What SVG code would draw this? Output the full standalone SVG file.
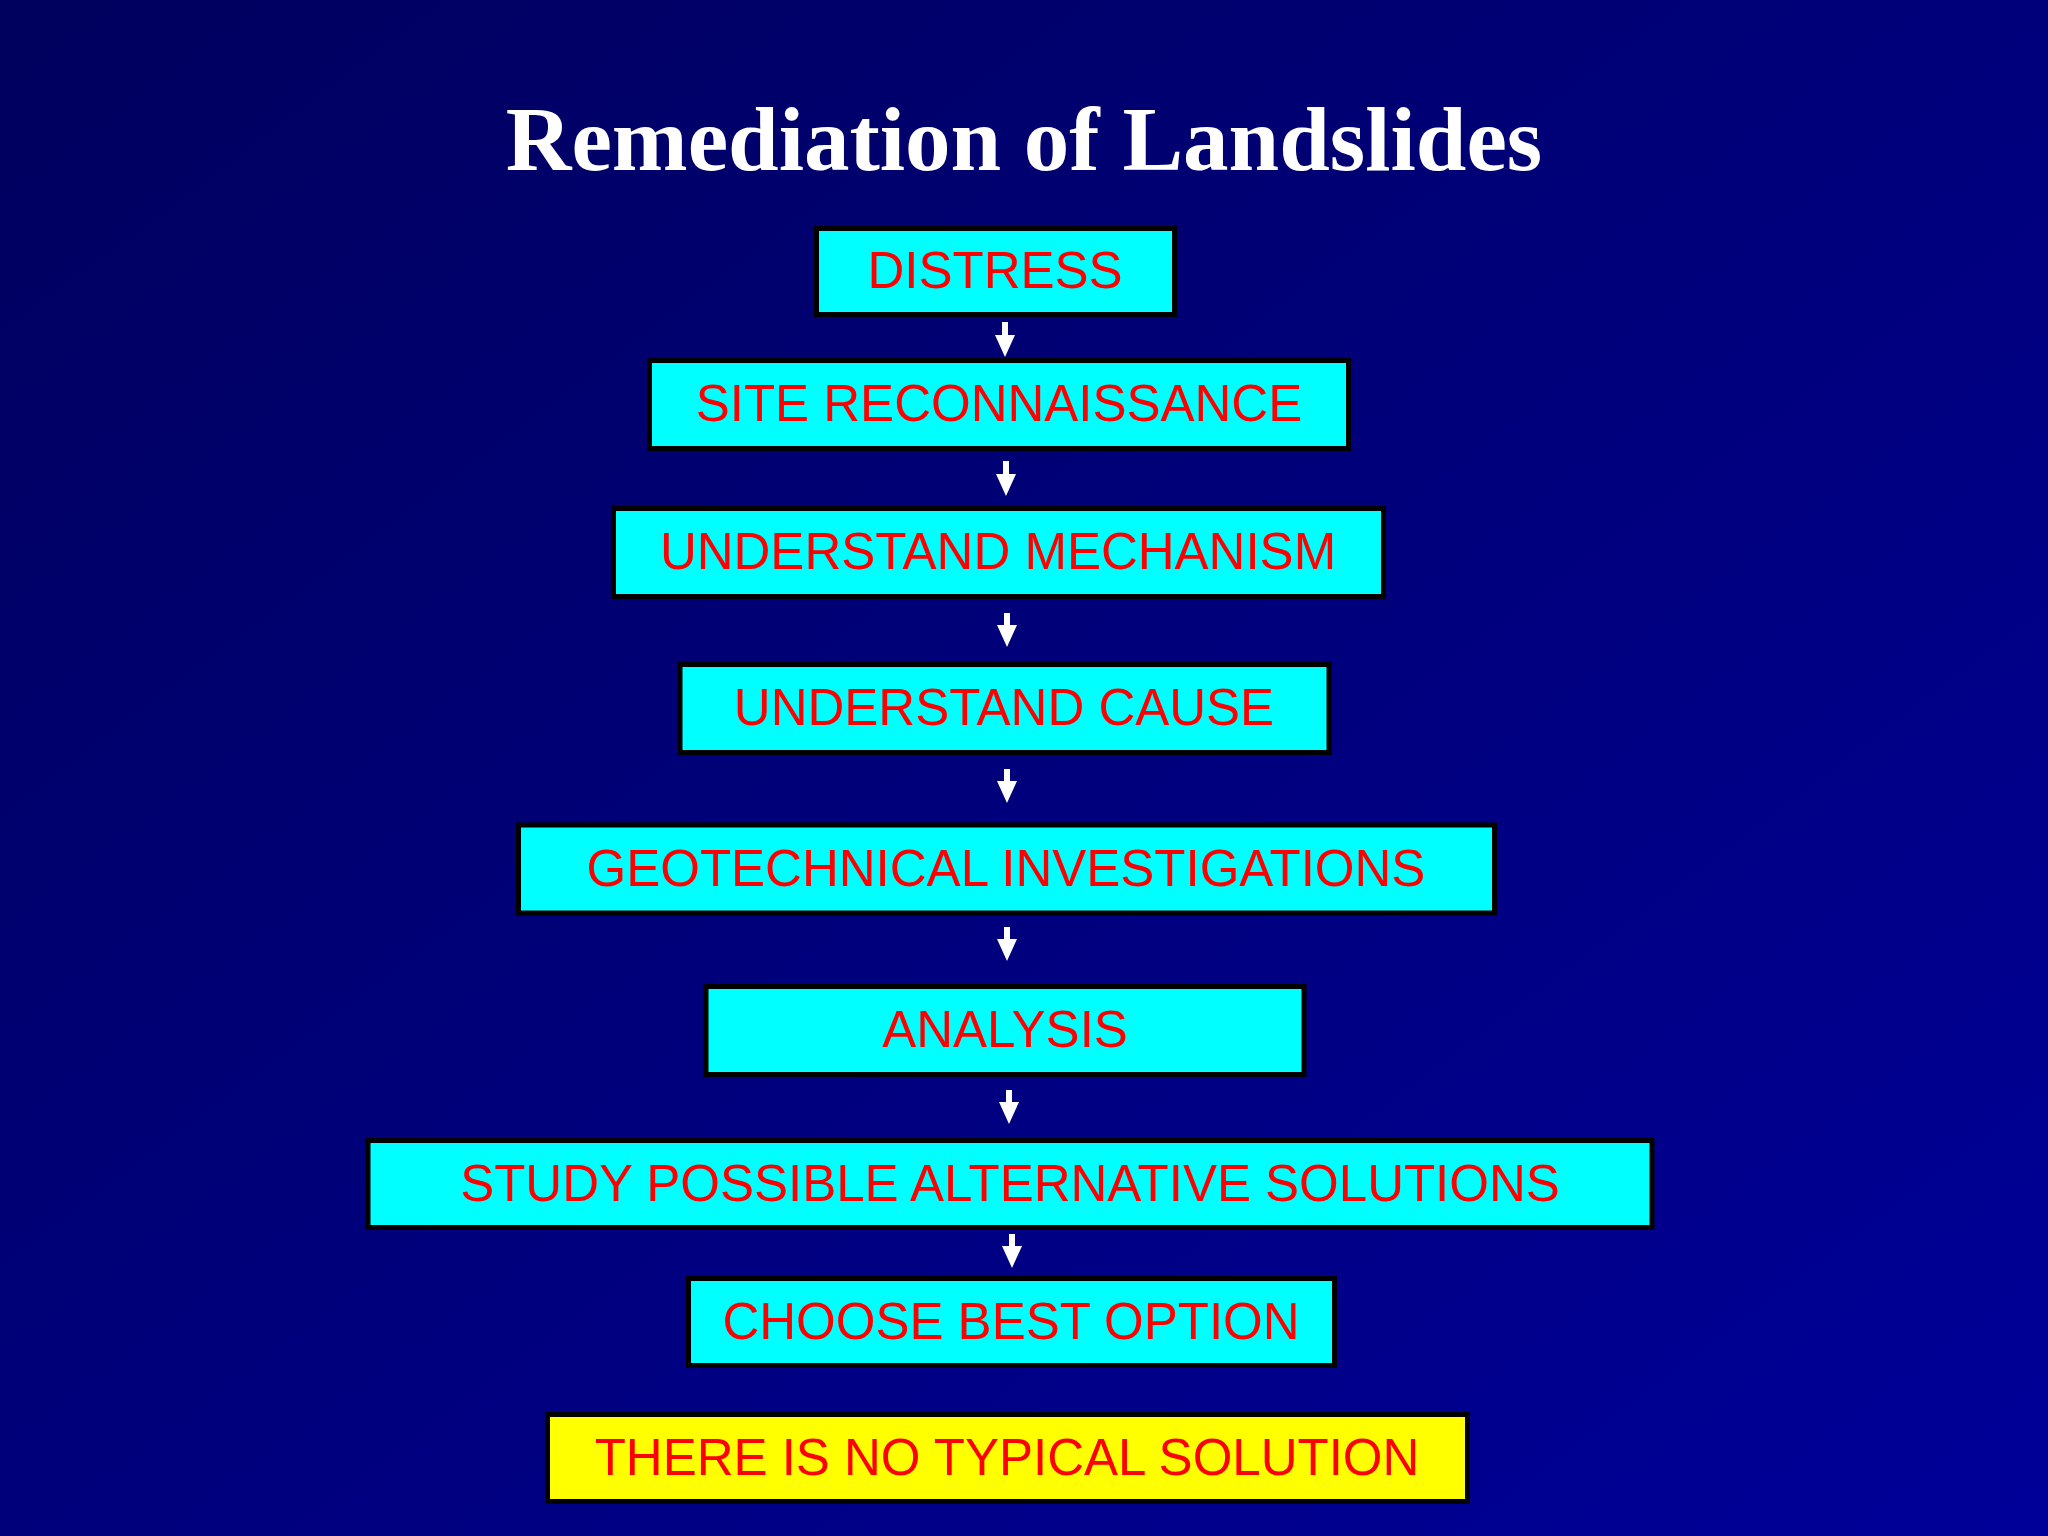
<svg xmlns="http://www.w3.org/2000/svg" width="2048" height="1536" viewBox="0 0 2048 1536">
<defs>
<linearGradient id="bg" x1="0" y1="0" x2="1" y2="1">
<stop offset="0" stop-color="#00005e"/>
<stop offset="1" stop-color="#000099"/>
</linearGradient>
<marker id="ah" markerUnits="userSpaceOnUse" markerWidth="22" markerHeight="20" refX="0" refY="10" orient="auto" viewBox="0 0 22 20">
<path d="M0,0 L22,10 L0,20 Z" fill="#ffffff"/>
</marker>
<style>
.box{stroke:#000000;stroke-width:5}
.cy{fill:#00ffff}
.ye{fill:#ffff00}
.lbl{font-family:"Liberation Sans",Arial,sans-serif;font-size:51px;fill:#ff0000;text-anchor:middle}
.title{font-family:"Liberation Serif","Times New Roman",serif;font-size:91px;font-weight:bold;fill:#ffffff;text-anchor:middle}
.arr{stroke:#ffffff;stroke-width:6;fill:none}
</style>
</defs>
<rect x="0" y="0" width="2048" height="1536" fill="url(#bg)"/>
<text class="title" x="1024" y="170">Remediation of Landslides</text>
<g id="connectors">
<line class="arr" x1="1005" y1="322" x2="1005" y2="335" marker-end="url(#ah)"/>
<line class="arr" x1="1006" y1="461" x2="1006" y2="474" marker-end="url(#ah)"/>
<line class="arr" x1="1007" y1="613" x2="1007" y2="625" marker-end="url(#ah)"/>
<line class="arr" x1="1007" y1="769" x2="1007" y2="781" marker-end="url(#ah)"/>
<line class="arr" x1="1007" y1="927" x2="1007" y2="939" marker-end="url(#ah)"/>
<line class="arr" x1="1009" y1="1090" x2="1009" y2="1102" marker-end="url(#ah)"/>
<line class="arr" x1="1012" y1="1234" x2="1012" y2="1246" marker-end="url(#ah)"/>
</g>
<g id="distress">
<rect class="box cy" x="816.5" y="228.5" width="358" height="86"/>
<text class="lbl" x="995" y="288">DISTRESS</text>
</g>
<g id="site-reconnaissance">
<rect class="box cy" x="649.5" y="360.5" width="699" height="88"/>
<text class="lbl" x="999" y="421">SITE RECONNAISSANCE</text>
</g>
<g id="understand-mechanism">
<rect class="box cy" x="613.5" y="508.5" width="770" height="88"/>
<text class="lbl" x="998" y="569">UNDERSTAND MECHANISM</text>
</g>
<g id="understand-cause">
<rect class="box cy" x="680" y="664.5" width="649" height="88"/>
<text class="lbl" x="1004" y="725">UNDERSTAND CAUSE</text>
</g>
<g id="geotechnical-investigations">
<rect class="box cy" x="518.5" y="825" width="976" height="88"/>
<text class="lbl" x="1006" y="886">GEOTECHNICAL INVESTIGATIONS</text>
</g>
<g id="analysis">
<rect class="box cy" x="706" y="986.5" width="598" height="88"/>
<text class="lbl" x="1005" y="1047">ANALYSIS</text>
</g>
<g id="study-alternatives">
<rect class="box cy" x="368" y="1140.5" width="1284" height="87"/>
<text class="lbl" x="1010" y="1201">STUDY POSSIBLE ALTERNATIVE SOLUTIONS</text>
</g>
<g id="choose-best-option">
<rect class="box cy" x="688.5" y="1278.5" width="646" height="87"/>
<text class="lbl" x="1011" y="1339">CHOOSE BEST OPTION</text>
</g>
<g id="no-typical-solution">
<rect class="box ye" x="547.5" y="1414.5" width="920" height="87"/>
<text class="lbl" x="1007" y="1475">THERE IS NO TYPICAL SOLUTION</text>
</g>
</svg>
